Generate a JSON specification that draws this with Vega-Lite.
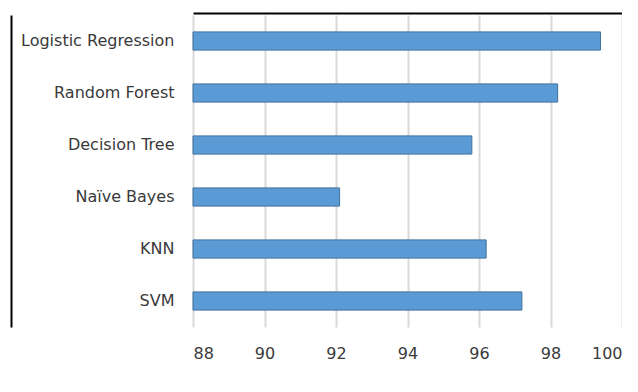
{
  "$schema": "https://vega.github.io/schema/vega-lite/v6.json",
  "width": 429,
  "height": 312,
  "padding": {"left": 11, "top": 13, "right": 0, "bottom": 0},
  "background": "white",
  "config": {
    "view": {"stroke": null},
    "font": "DejaVu Sans"
  },
  "data": {
    "values": [
      {"model": "Logistic Regression", "accuracy": 99.4},
      {"model": "Random Forest", "accuracy": 98.2},
      {"model": "Decision Tree", "accuracy": 95.8},
      {"model": "Naïve Bayes", "accuracy": 92.1},
      {"model": "KNN", "accuracy": 96.2},
      {"model": "SVM", "accuracy": 97.2}
    ]
  },
  "layer": [
    {
      "mark": {"type": "bar", "color": "#5b9bd5", "stroke": "#41719c", "strokeWidth": 1},
      "encoding": {
        "y": {
          "field": "model", "type": "nominal", "sort": null,
          "scale": {"paddingInner": 0.65, "paddingOuter": 0.325},
          "axis": {
            "title": null, "orient": "left", "domain": false, "ticks": false,
            "labelPadding": 19, "labelFontSize": 16, "labelColor": "#3a3a3a",
            "labelFont": "DejaVu Sans", "labelLimit": 300
          }
        },
        "x": {
          "field": "accuracy", "type": "quantitative",
          "scale": {"domain": [88, 100], "nice": false, "zero": false},
          "axis": {
            "title": null, "orient": "bottom", "values": [88, 90, 92, 94, 96, 98, 100],
            "domain": false, "ticks": false, "grid": true, "gridColor": "#d9d9d9", "gridWidth": 2,
            "labelPadding": 18, "labelFontSize": 16, "labelColor": "#3a3a3a",
            "labelFont": "DejaVu Sans"
          }
        },
        "x2": {"datum": 88}
      }
    },
    {
      "mark": {"type": "bar", "opacity": 0},
      "encoding": {
        "y": {
          "field": "model", "type": "nominal", "sort": null,
          "scale": {"paddingInner": 0.65, "paddingOuter": 0.325},
          "axis": {
            "title": null, "orient": "left", "offset": 182, "domain": true,
            "domainColor": "#000000", "domainWidth": 2,
            "labels": false, "ticks": false, "grid": false
          }
        },
        "x": {
          "field": "accuracy", "type": "quantitative",
          "scale": {"domain": [88, 100], "nice": false, "zero": false},
          "axis": {
            "title": null, "orient": "top", "offset": 2, "domain": true,
            "domainColor": "#000000", "domainWidth": 2,
            "labels": false, "ticks": false, "grid": false
          }
        },
        "x2": {"datum": 88}
      }
    }
  ],
  "resolve": {"axis": {"x": "independent", "y": "independent"}}
}
